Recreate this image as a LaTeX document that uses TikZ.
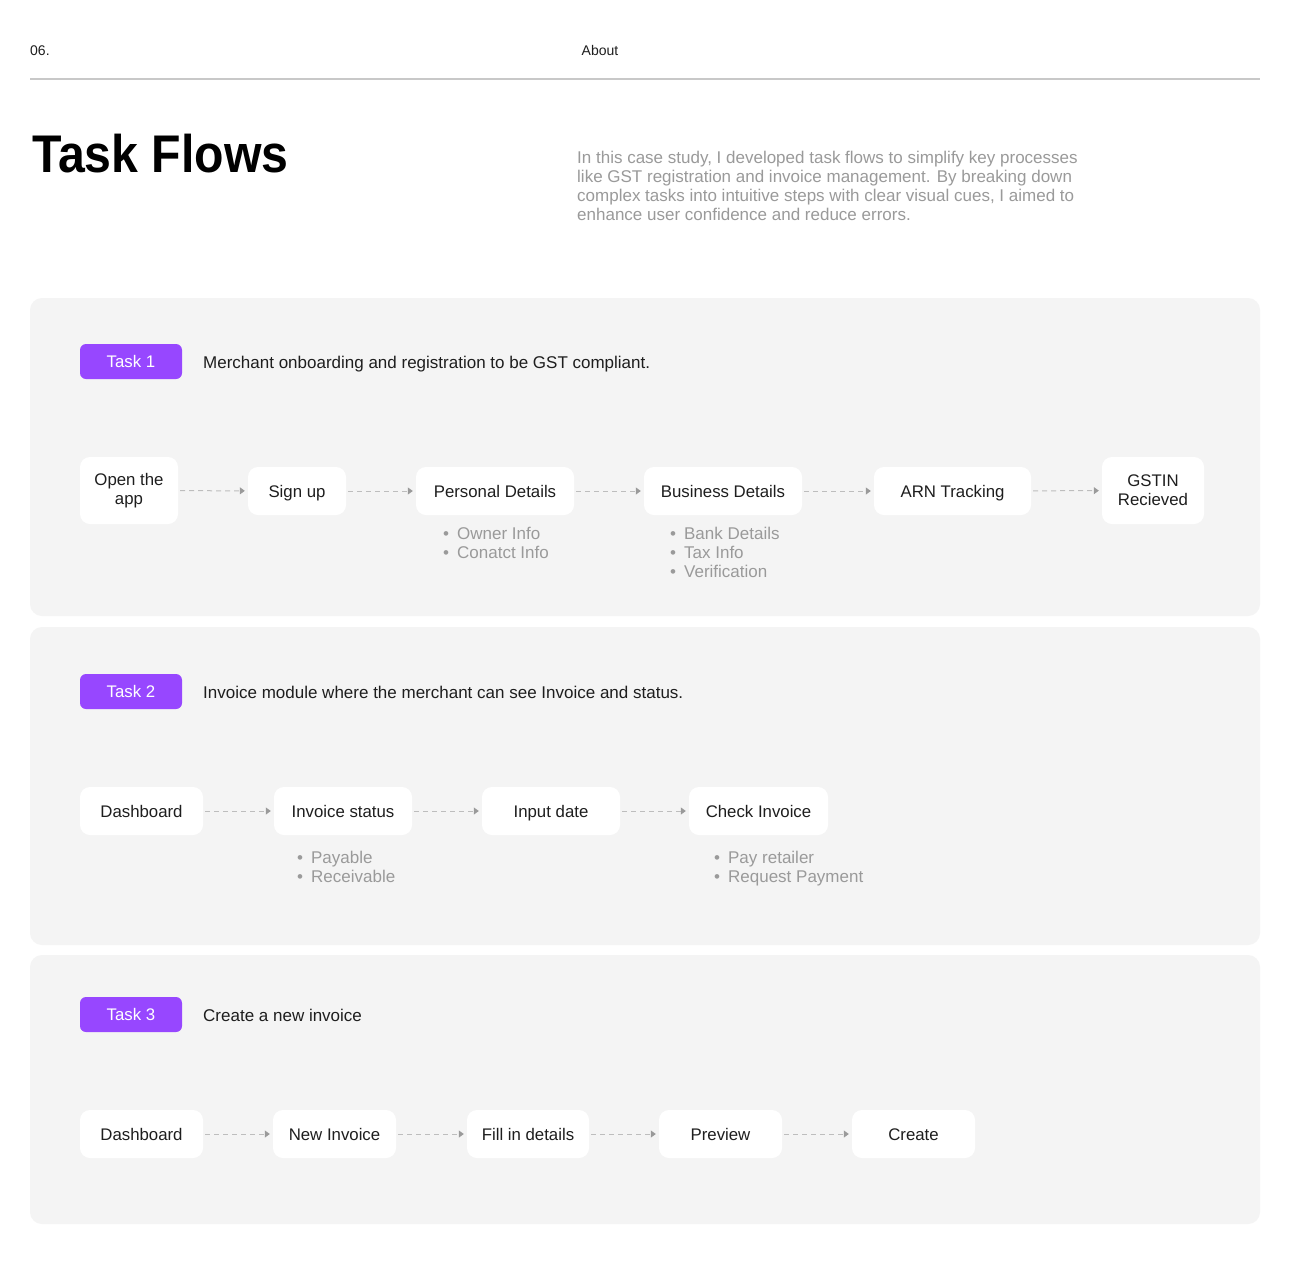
\documentclass[tikz,border=0pt]{standalone}
\usepackage{fontspec}
\setmainfont{Liberation Sans}
\usetikzlibrary{arrows.meta}
\definecolor{ink}{HTML}{1E1E1E}
\definecolor{mute}{HTML}{9A9A9A}
\definecolor{panel}{HTML}{F4F4F4}
\definecolor{rule}{HTML}{C8C8C8}
\definecolor{purp}{HTML}{9747FF}
\definecolor{dashc}{HTML}{BDBDBD}
\definecolor{headc}{HTML}{9A9A9A}
\tikzset{
  body/.style={font=\fontsize{17}{19}\selectfont, text=ink, inner sep=0pt},
  sub/.style={font=\fontsize{17}{19}\selectfont, text=mute, inner sep=0pt, anchor=base west},
  boxbase/.style={rectangle, rounded corners=10pt, fill=white, minimum height=48pt,
    font=\fontsize{16.8}{19}\selectfont, text=ink, align=center, inner sep=0pt},
  stepbox/.style={boxbase, text height=12pt, text depth=0pt},
  twobox/.style={boxbase, minimum height=67pt},
  badge/.style={rectangle, rounded corners=6pt, fill=purp, minimum width=102pt, minimum height=35pt,
    font=\fontsize{16.8}{19}\selectfont, text=white, inner sep=0pt, text height=12pt, text depth=0pt},
  panelbox/.style={fill=panel, rounded corners=12pt},
  flow/.style={draw=dashc, line width=1pt, dash pattern=on 5pt off 4pt,
    -{Triangle[length=5pt,width=7pt,color=headc]}, shorten <=2pt, shorten >=3pt},
}
\begin{document}
\begin{tikzpicture}[x=1pt,y=-1pt]
\path[use as bounding box, fill=white] (0,0) rectangle (1297,1266);
% header
\node[font=\fontsize{14}{16}\selectfont, text=ink, inner sep=0pt, anchor=base west] (num) at (30,55) {06.};
\node[font=\fontsize{14}{16}\selectfont, text=ink, inner sep=0pt, anchor=base] (about) at (600,55) {About};
\draw[rule, line width=1.5pt] (30,79) -- (1260,79);
% title
\node[font=\fontsize{53}{60}\selectfont\bfseries, text=black, inner sep=0pt, anchor=base west] (title) at (32,172) {\scalebox{0.91}[1]{Task Flows}};
\node[body, text=mute, anchor=base west] (p1) at (577,163) {In this case study, I developed task flows to simplify key processes};
\node[body, text=mute, anchor=base west] (p2) at (577,182) {like GST registration and invoice management. By breaking down};
\node[body, text=mute, anchor=base west] (p3) at (577,201) {complex tasks into intuitive steps with clear visual cues, I aimed to};
\node[body, text=mute, anchor=base west] (p4) at (577,220) {enhance user confidence and reduce errors.};
% panels
\path[panelbox] (30,298) rectangle (1260,616);
\path[panelbox] (30,627) rectangle (1260,945);
\path[panelbox] (30,955) rectangle (1260,1224);
% ---- Task 1
\node[badge] (t1) at (131,361.5) {Task 1};
\node[body, anchor=base west] (d1) at (203,368) {Merchant onboarding and registration to be GST compliant.};
\node[twobox, minimum width=98pt] (a1) at (129,490.5) {Open the\\app};
\node[stepbox, minimum width=98pt] (a2) at (297,491) {Sign up};
\node[stepbox, minimum width=158pt] (a3) at (495,491) {Personal Details};
\node[stepbox, minimum width=158pt] (a4) at (723,491) {Business Details};
\node[stepbox, minimum width=157pt] (a5) at (952.5,491) {ARN Tracking};
\node[twobox, minimum width=102pt] (a6) at (1153,490.5) {GSTIN\\Recieved};
\draw[flow] (a1) -- (a2);
\draw[flow] (a2) -- (a3);
\draw[flow] (a3) -- (a4);
\draw[flow] (a4) -- (a5);
\draw[flow] (a5) -- (a6);
\node[sub] (s11) at (443,539) {•\hspace{8pt}Owner Info};
\node[sub] (s12) at (443,558) {•\hspace{8pt}Conatct Info};
\node[sub] (s21) at (670,539) {•\hspace{8pt}Bank Details};
\node[sub] (s22) at (670,558) {•\hspace{8pt}Tax Info};
\node[sub] (s23) at (670,577) {•\hspace{8pt}Verification};
% ---- Task 2
\node[badge] (t2) at (131,691.5) {Task 2};
\node[body, anchor=base west] (d2) at (203,698) {Invoice module where the merchant can see Invoice and status.};
\node[stepbox, minimum width=123pt] (b1) at (141.5,811) {Dashboard};
\node[stepbox, minimum width=138pt] (b2) at (343,811) {Invoice status};
\node[stepbox, minimum width=138pt] (b3) at (551,811) {Input date};
\node[stepbox, minimum width=139pt] (b4) at (758.5,811) {Check Invoice};
\draw[flow] (b1) -- (b2);
\draw[flow] (b2) -- (b3);
\draw[flow] (b3) -- (b4);
\node[sub] (s31) at (297,863) {•\hspace{8pt}Payable};
\node[sub] (s32) at (297,882) {•\hspace{8pt}Receivable};
\node[sub] (s41) at (714,863) {•\hspace{8pt}Pay retailer};
\node[sub] (s42) at (714,882) {•\hspace{8pt}Request Payment};
% ---- Task 3
\node[badge] (t3) at (131,1014.5) {Task 3};
\node[body, anchor=base west] (d3) at (203,1021) {Create a new invoice};
\node[stepbox, minimum width=123pt] (c1) at (141.5,1134) {Dashboard};
\node[stepbox, minimum width=123pt] (c2) at (334.5,1134) {New Invoice};
\node[stepbox, minimum width=122pt] (c3) at (528,1134) {Fill in details};
\node[stepbox, minimum width=123pt] (c4) at (720.5,1134) {Preview};
\node[stepbox, minimum width=123pt] (c5) at (913.5,1134) {Create};
\draw[flow] (c1) -- (c2);
\draw[flow] (c2) -- (c3);
\draw[flow] (c3) -- (c4);
\draw[flow] (c4) -- (c5);
\end{tikzpicture}
\end{document}
